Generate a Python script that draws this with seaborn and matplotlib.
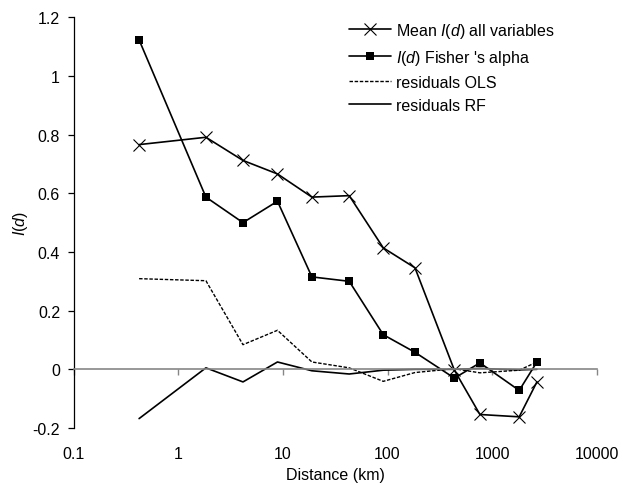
import matplotlib
matplotlib.use("Agg")
import matplotlib.pyplot as plt
import matplotlib.ticker as mticker
import seaborn as sns

# distance class midpoints (km) and Moran's I values
distance = [0.42, 1.83, 4.14, 8.85, 18.9, 43, 91, 183, 436, 765, 1818, 2685]
mean_all = [0.766, 0.791, 0.712, 0.666, 0.587, 0.592, 0.414, 0.346, -0.003, -0.154, -0.162, -0.043]
fisher = [1.123, 0.587, 0.50, 0.573, 0.315, 0.30, 0.118, 0.058, -0.03, 0.022, -0.072, 0.025]
resid_ols = [0.309, 0.302, 0.084, 0.133, 0.025, 0.005, -0.041, -0.011, 0.002, -0.012, -0.003, 0.025]
resid_rf = [-0.168, 0.005, -0.043, 0.025, -0.005, -0.016, -0.003, 0.0, 0.0, 0.003, -0.002, 0.0]

xticks = [0.1, 1, 10, 100, 1000, 10000]
xticklabels = ["0.1", "1", "10", "100", "1000", "10000"]
yticks = [-0.2, 0, 0.2, 0.4, 0.6, 0.8, 1.0, 1.2]
yticklabels = ["-0.2", "0", "0.2", "0.4", "0.6", "0.8", "1", "1.2"]

sns.set_style("white")
plt.rcParams["font.family"] = ["Liberation Sans", "DejaVu Sans"]
plt.rcParams["mathtext.fontset"] = "custom"
plt.rcParams["mathtext.it"] = "Liberation Sans:italic"
plt.rcParams["mathtext.rm"] = "Liberation Sans"
plt.rcParams["text.color"] = "black"
plt.rcParams["axes.labelcolor"] = "black"
plt.rcParams["xtick.color"] = "black"
plt.rcParams["ytick.color"] = "black"
fs = 11.5

fig = plt.figure(figsize=(6.32, 4.85), dpi=100)
ax = fig.add_axes([0.117, 0.1155, 0.827, 0.8468])

sns.lineplot(x=distance, y=mean_all, ax=ax, color="black", lw=1.2, marker="x",
             markersize=9, markeredgewidth=0.8, markeredgecolor="black",
             label=r"Mean $I$($d$) all variables")
sns.lineplot(x=distance, y=fisher, ax=ax, color="black", lw=1.2, marker="s",
             markersize=5.5, markeredgewidth=0, markerfacecolor="black",
             label=r"$I$($d$) Fisher 's alpha")
sns.lineplot(x=distance, y=resid_ols, ax=ax, color="black", lw=1.0, linestyle=(0, (2.5, 1.2)),
             label="residuals OLS")
sns.lineplot(x=distance, y=resid_rf, ax=ax, color="black", lw=1.2, label="residuals RF")

ax.set_xscale("log")
ax.set_xlim(0.1, 10000)
ax.set_ylim(-0.2, 1.2)

# horizontal axis crosses at zero, labels stay at the bottom
ax.spines["top"].set_visible(False)
ax.spines["right"].set_visible(False)
ax.spines["bottom"].set_position(("data", 0))
ax.spines["bottom"].set_color("#868686")
ax.spines["bottom"].set_linewidth(1.2)
ax.spines["left"].set_color("black")
ax.spines["left"].set_linewidth(0.9)
ax.set_xticks(xticks)
ax.xaxis.set_minor_locator(mticker.NullLocator())
ax.tick_params(axis="x", bottom=True, direction="out", length=4, width=1,
               color="#868686", labelbottom=False)
ax.set_yticks(yticks)
ax.set_yticklabels(yticklabels, fontsize=fs)
ax.tick_params(axis="y", left=True, direction="out", length=4, width=0.9,
               color="black", labelcolor="black", pad=6)
ax.set_ylabel(r"$I$($d$)", fontsize=fs, labelpad=2)
ax.set_xlabel("")

sec = ax.secondary_xaxis("bottom")
sec.spines["bottom"].set_visible(False)
sec.set_xticks(xticks)
sec.set_xticklabels(xticklabels, fontsize=fs)
sec.xaxis.set_minor_locator(mticker.NullLocator())
sec.tick_params(axis="x", length=0, pad=13, labelcolor="black")
sec.set_xlabel("Distance (km)", fontsize=fs, labelpad=4)

ax.legend(loc="upper left", bbox_to_anchor=(0.535, 0.978), bbox_transform=fig.transFigure,
          frameon=False, fontsize=fs, handlelength=2.6, handletextpad=0.3,
          labelspacing=0.5, borderpad=0.2)

fig.savefig("out.png", dpi=100)
